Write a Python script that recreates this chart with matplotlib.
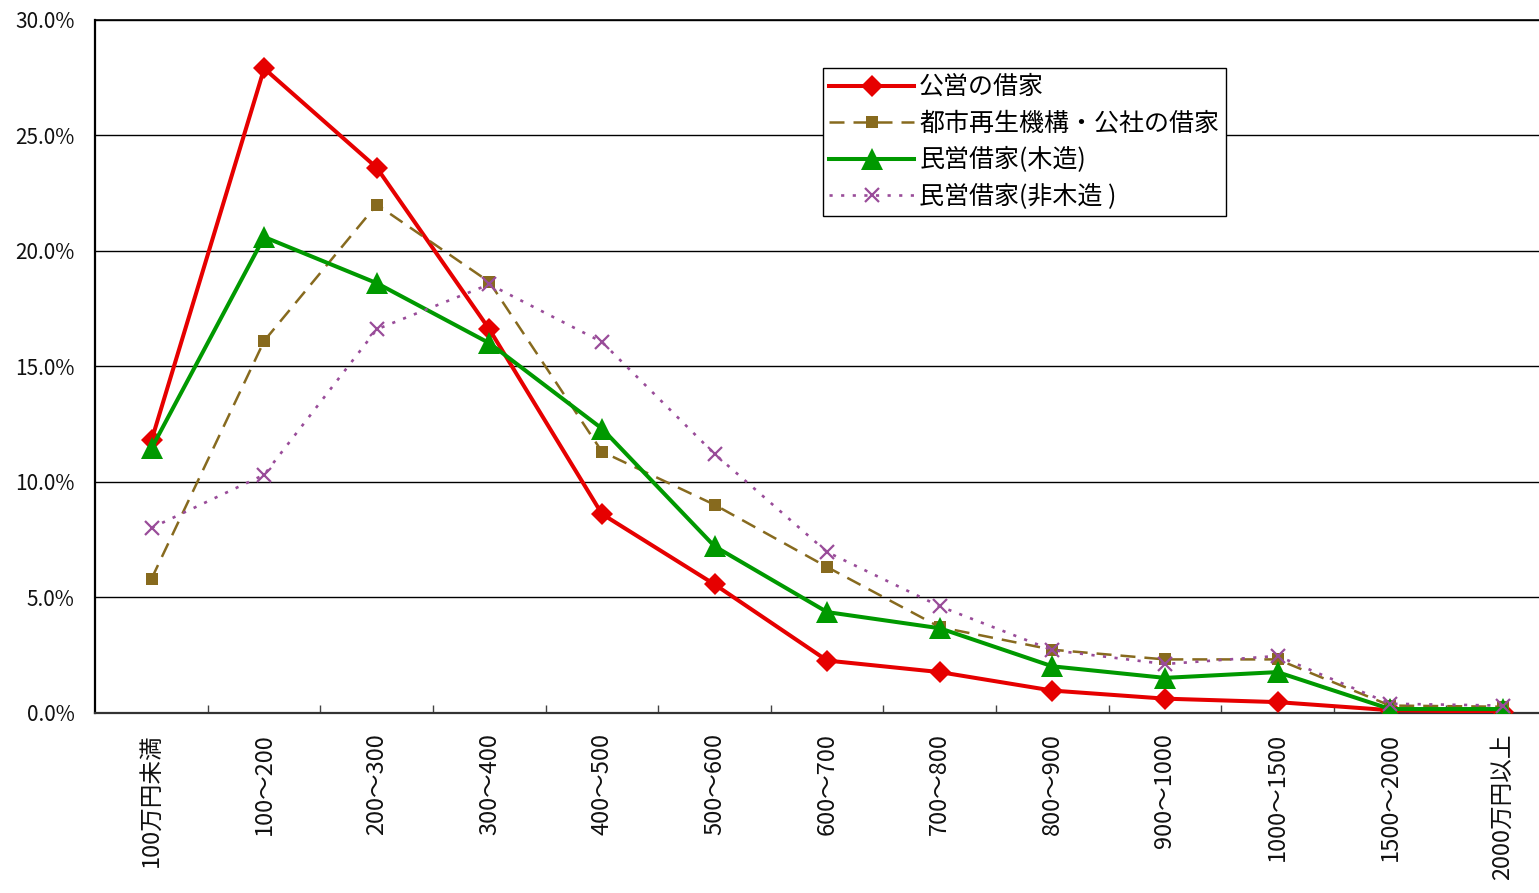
import matplotlib
matplotlib.use("Agg")
import matplotlib.pyplot as plt
from matplotlib.ticker import FixedLocator, FuncFormatter

plt.rcParams['font.family'] = ['Noto Sans CJK JP', 'DejaVu Sans']

# Income brackets (10,000 yen)
categories = ["100万円未満", "100～200", "200～300", "300～400", "400～500",
              "500～600", "600～700", "700～800", "800～900", "900～1000",
              "1000～1500", "1500～2000", "2000万円以上"]

# Share of households in each bracket (%)
public_housing = [11.8, 27.9, 23.6, 16.6, 8.6, 5.55, 2.25, 1.75, 0.95, 0.6, 0.45, 0.1, 0.03]
ur_corp_housing = [5.8, 16.1, 22.0, 18.65, 11.3, 9.0, 6.3, 3.7, 2.72, 2.3, 2.3, 0.3, 0.25]
private_wooden = [11.45, 20.6, 18.6, 16.0, 12.3, 7.2, 4.35, 3.65, 2.0, 1.5, 1.75, 0.15, 0.15]
private_nonwooden = [8.0, 10.3, 16.6, 18.55, 16.05, 11.2, 6.95, 4.6, 2.7, 2.1, 2.45, 0.38, 0.3]

series_names = ["公営の借家", "都市再生機構・公社の借家", "民営借家(木造)", "民営借家(非木造 )"]

y_ticks = [0, 5, 10, 15, 20, 25, 30]

W, H = 1539, 893
fig = plt.figure(figsize=(W / 100, H / 100), dpi=100)
left, right, top, bottom = 95.3, 1559, 20, 712.5
ax = fig.add_axes([left / W, (H - bottom) / H, (right - left) / W, (bottom - top) / H])

x = list(range(len(categories)))

ax.plot(x, public_housing, color='#E60000', lw=2.9, marker='D', markersize=11,
        markeredgewidth=0, label=series_names[0], zorder=3)
ax.plot(x, ur_corp_housing, color='#876A1E', lw=1.8, dashes=(6, 3.6), marker='s',
        markersize=8.5, markeredgewidth=0, label=series_names[1], zorder=4)
ax.plot(x, private_wooden, color='#009900', lw=2.9, marker='^', markersize=16,
        markeredgewidth=0, label=series_names[2], zorder=5)
ax.plot(x, private_nonwooden, color='#994C99', lw=1.9, dashes=(1.2, 3.2), marker='x',
        markersize=9.5, markeredgewidth=1.6, label=series_names[3], zorder=6)

ax.set_xlim(-0.5, len(categories) - 0.5)
ax.set_ylim(0, 30)

ax.yaxis.set_major_locator(FixedLocator(y_ticks))
ax.yaxis.set_major_formatter(FuncFormatter(lambda v, p: f"{v:.1f}%"))
ax.yaxis.grid(True, color='black', lw=1.0)
ax.set_axisbelow(True)
ax.tick_params(axis='y', length=0, pad=15, labelsize=15, labelcolor='#111111')

ax.set_xticks(x)
ax.set_xticklabels(categories, rotation=90, va='top', ha='center')
ax.set_xticks([i + 0.5 for i in range(len(categories))], minor=True)
ax.tick_params(axis='x', which='major', length=0, pad=15, labelsize=17, labelcolor='#111111')
ax.tick_params(axis='x', which='minor', length=5.8, width=1.0, direction='in', color='#444444')

for side in ('left', 'top', 'bottom'):
    ax.spines[side].set_color('black')
ax.spines['left'].set_linewidth(1.6)
ax.spines['bottom'].set_linewidth(1.6)
ax.spines['bottom'].set_color('#333333')
ax.spines['top'].set_linewidth(1.2)
ax.spines['right'].set_visible(False)

leg = ax.legend(loc='upper left', bbox_to_anchor=(823 / W, 1 - 68 / H),
                bbox_transform=fig.transFigure, borderaxespad=0, fontsize=18,
                frameon=True, fancybox=False, shadow=False, framealpha=1,
                edgecolor='black', numpoints=1, handlelength=3.4,
                handletextpad=0.2, labelspacing=0.42, borderpad=0.25)
leg.get_frame().set_linewidth(1.0)

fig.savefig('out.png', dpi=100)
